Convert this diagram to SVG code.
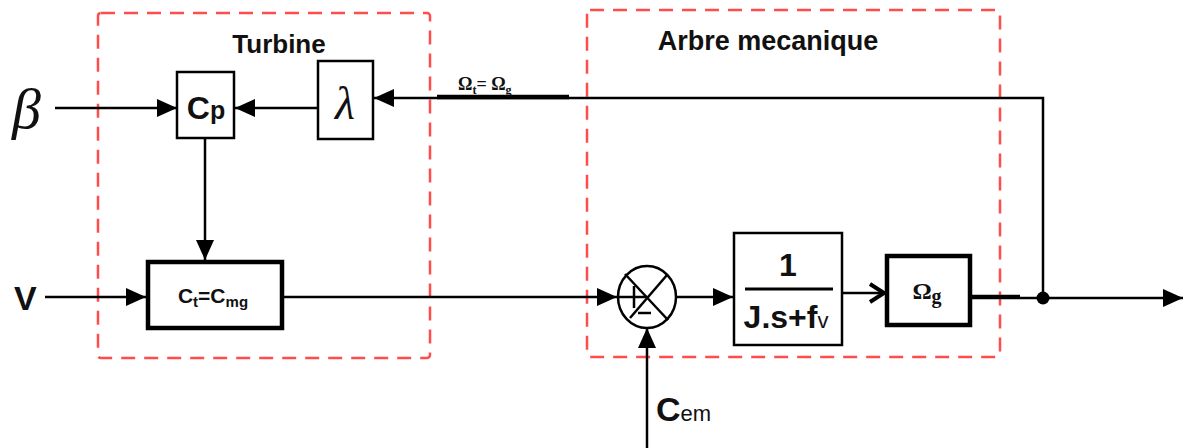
<svg xmlns="http://www.w3.org/2000/svg" width="1187" height="448" viewBox="0 0 1187 448">
<style>
.dash{fill:none;stroke:#ff4d4d;stroke-width:2.5;stroke-dasharray:14,9}
.box{fill:#fff;stroke:#000;stroke-width:2.5}
.tbox{fill:#fff;stroke:#000;stroke-width:4.5}
.ln{fill:none;stroke:#000;stroke-width:2.5}
.sans{font-family:"Liberation Sans",Arial,sans-serif;font-weight:bold;fill:#111}
.serif{font-family:"Liberation Serif","Times New Roman",serif;fill:#111}
</style>
<defs>
<marker id="ah" markerWidth="22" markerHeight="18" refX="20" refY="9" orient="auto" markerUnits="userSpaceOnUse">
<path d="M0,0 L20,9 L0,18 Z" fill="#000"/>
</marker>
</defs>
<rect width="1187" height="448" fill="#fff"/>
<g id="turbine-frame">
<rect class="dash" x="98" y="13" width="332" height="345" rx="3"/>
<text class="sans" x="279" y="53" font-size="26" text-anchor="middle">Turbine</text>
</g>
<g id="arbre-frame">
<rect class="dash" x="587" y="10" width="413" height="347" rx="3"/>
<text class="sans" x="768" y="50" font-size="27" text-anchor="middle">Arbre mecanique</text>
</g>
<g id="connectors">
<line class="ln" x1="55" y1="108" x2="177" y2="108" marker-end="url(#ah)"/>
<line class="ln" x1="318" y1="108" x2="235" y2="108" marker-end="url(#ah)"/>
<polyline class="ln" points="1043,298 1043,98 374,98" marker-end="url(#ah)"/>
<line x1="437" y1="97" x2="569" y2="97" stroke="#000" stroke-width="4.5"/>
<line class="ln" x1="205" y1="139" x2="205" y2="260" marker-end="url(#ah)"/>
<line class="ln" x1="45" y1="297" x2="146" y2="297" marker-end="url(#ah)"/>
<line class="ln" x1="283" y1="297" x2="617" y2="297" marker-end="url(#ah)"/>
<line class="ln" x1="676" y1="297" x2="733" y2="297" marker-end="url(#ah)"/>
<line class="ln" x1="842" y1="293" x2="884" y2="293"/>
<polyline points="870,284 884,293 870,302" fill="none" stroke="#000" stroke-width="4"/>
<line x1="970" y1="297" x2="1020" y2="297" stroke="#000" stroke-width="4.5"/>
<line class="ln" x1="1020" y1="298" x2="1183" y2="298" marker-end="url(#ah)"/>
<circle cx="1043" cy="298" r="6.5" fill="#000"/>
<line class="ln" x1="647" y1="448" x2="647" y2="328" marker-end="url(#ah)"/>
<text x="458" y="90" font-family="'Liberation Serif',serif" font-weight="bold" font-size="18" fill="#111">Ω<tspan font-size="12" dy="4">t</tspan><tspan dy="-4">= Ω</tspan><tspan font-size="12" dy="4">g</tspan></text>
</g>
<g id="beta">
<text class="serif" x="12" y="128" font-size="58" font-style="italic">β</text>
</g>
<g id="v-input">
<text class="sans" x="14" y="310" font-size="34">V</text>
</g>
<g id="cp-block">
<rect class="box" x="177" y="72" width="57" height="66"/>
<text class="sans" x="206" y="119" font-size="32" text-anchor="middle">C<tspan font-size="25">p</tspan></text>
</g>
<g id="lambda-block">
<rect class="box" x="318" y="61" width="55" height="78"/>
<text class="serif" x="345" y="119" font-size="46" font-style="italic" text-anchor="middle">λ</text>
</g>
<g id="ct-block">
<rect class="tbox" x="148" y="262" width="134" height="66"/>
<text class="sans" x="213" y="303" font-size="21" text-anchor="middle">C<tspan font-size="15" dy="4">t</tspan><tspan dy="-4">=C</tspan><tspan font-size="15" dy="4">mg</tspan></text>
</g>
<g id="sum">
<ellipse cx="647" cy="297" rx="29" ry="31" fill="#fff" stroke="#000" stroke-width="2.5"/>
<line class="ln" x1="625" y1="274" x2="668" y2="320"/>
<line class="ln" x1="667" y1="275" x2="630" y2="318"/>
<line class="ln" x1="618" y1="297" x2="647" y2="297"/>
<line class="ln" x1="634" y1="286" x2="634" y2="308"/>
<line class="ln" x1="638" y1="313" x2="651" y2="313"/>
</g>
<g id="transfer-block">
<rect class="box" x="734" y="233" width="108" height="112"/>
<text class="sans" x="788" y="276" font-size="32" text-anchor="middle">1</text>
<line x1="745" y1="289" x2="833" y2="289" stroke="#000" stroke-width="3"/>
<text class="sans" x="786" y="328" font-size="32" text-anchor="middle">J.s+f<tspan font-size="22" font-weight="normal">v</tspan></text>
</g>
<g id="omega-block">
<rect class="tbox" x="887" y="256" width="83" height="69"/>
<text class="serif" x="927" y="299" font-size="24" font-weight="bold" text-anchor="middle">Ω<tspan font-size="20" dy="4">g</tspan></text>
</g>
<g id="cem-label">
<text class="sans" x="656" y="421" font-size="34">C<tspan font-size="22" font-weight="normal">em</tspan></text>
</g>
</svg>
